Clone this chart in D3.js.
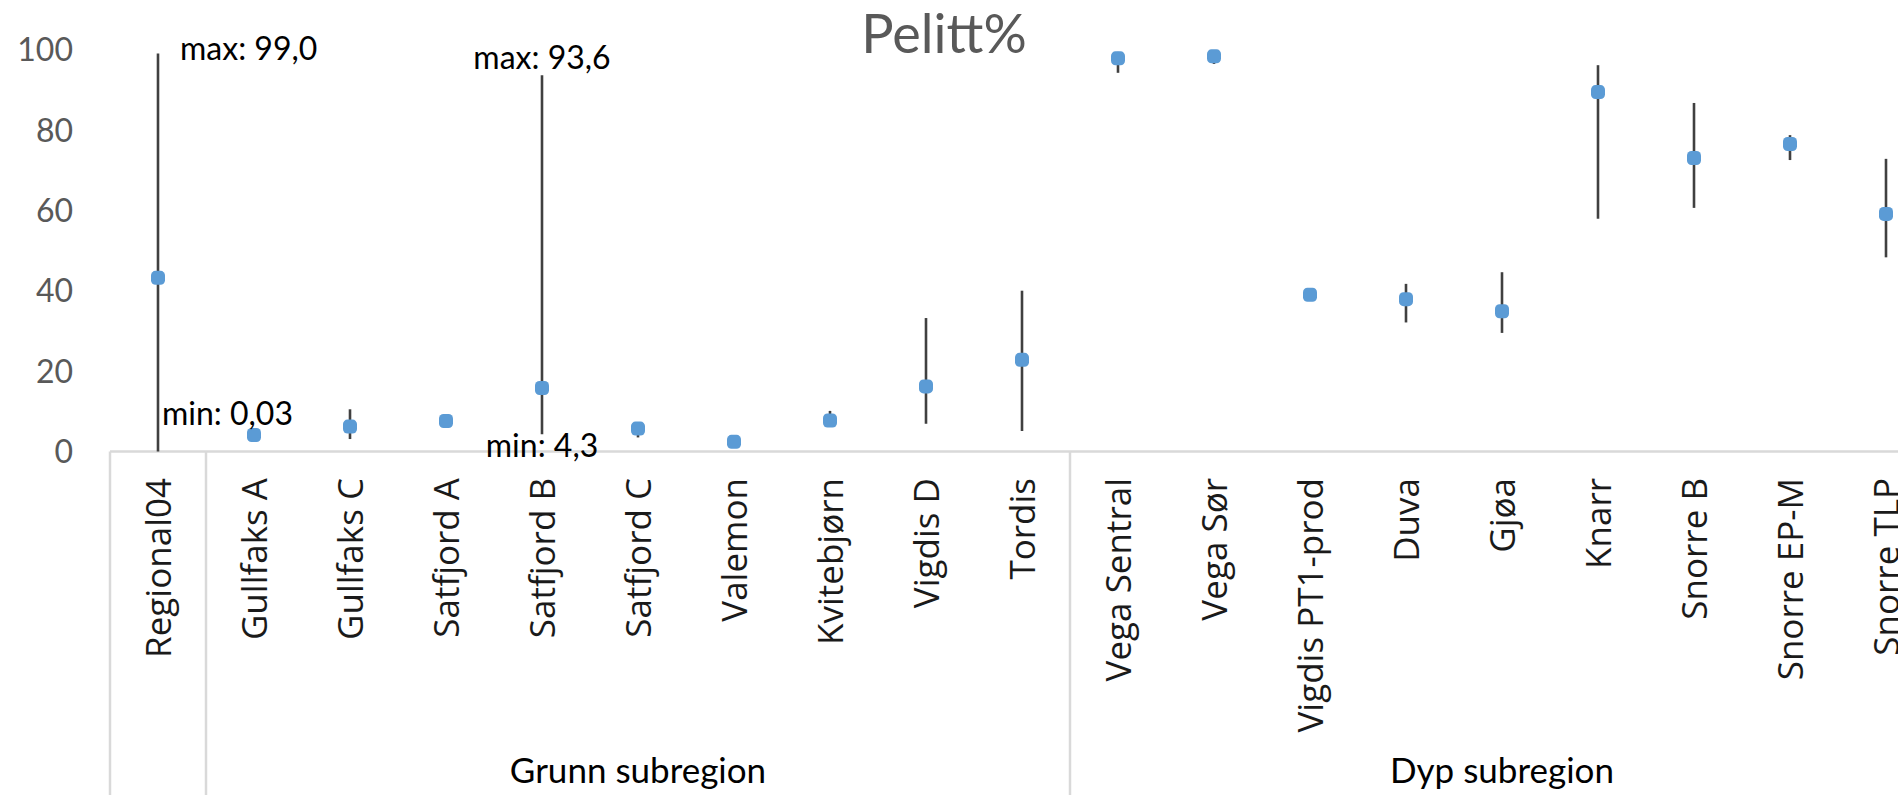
<!DOCTYPE html>
<html>
<head>
<meta charset="utf-8">
<script src="https://cdn.jsdelivr.net/npm/d3@7"></script>
<style>
  html, body { margin: 0; padding: 0; background: #ffffff; overflow: hidden; }
  svg { display: block; }
</style>
</head>
<body>
<svg id="chart" width="1898" height="795"></svg>
<script>
// ---- data ----
const categories = ["Regional04", "Gullfaks A", "Gullfaks C", "Satfjord A", "Satfjord B", "Satfjord C",
  "Valemon", "Kvitebjørn", "Vigdis D", "Tordis", "Vega Sentral", "Vega Sør", "Vigdis PT1-prod",
  "Duva", "Gjøa", "Knarr", "Snorre B", "Snorre EP-M", "Snorre TLP"];
const groupNames = ["", "Grunn subregion", "Dyp subregion"];
const groupSizes = [1, 9, 9];
const meanValues = [43.2, 4.1, 6.2, 7.6, 15.8, 5.7, 2.4, 7.7, 16.2, 22.8, 97.8, 98.3, 39.0, 37.9, 34.9, 89.4, 73.0, 76.5, 59.1];
const minValues  = [0.03, 3.6, 3.1, 7.0, 4.3, 3.5, 2.0, 7.0, 6.9, 5.1, 94.2, 96.4, 38.6, 32.1, 29.5, 57.9, 60.6, 72.5, 48.3];
const maxValues  = [99.0, 4.6, 10.5, 8.2, 93.6, 6.5, 2.9, 10.1, 33.2, 40.0, 99.4, 99.0, 39.4, 41.7, 44.6, 96.1, 86.7, 78.7, 72.8];
const yTicks = [0, 20, 40, 60, 80, 100];
const annotations = [
  { cat: "Regional04", kind: "max", text: "max: 99,0" },
  { cat: "Regional04", kind: "min", text: "min: 0,03" },
  { cat: "Satfjord B", kind: "max", text: "max: 93,6" },
  { cat: "Satfjord B", kind: "min", text: "min: 4,3" }
];
const title = "Pelitt%";

// ---- layout ----
const W = 1898, H = 795;
const left = 110, bandW = 96;
const right = left + bandW * categories.length;   // extends past the window (cropped like reference)
const yZero = 451.5, yTop = 49.5;

const svg = d3.select("#chart");
const x = d3.scaleBand().domain(categories).range([left, right]).paddingInner(0).paddingOuter(0);
const y = d3.scaleLinear().domain([0, 100]).range([yZero, yTop]);
const cx = c => x(c) + x.bandwidth() / 2;

// title
svg.append("text")
  .attr("x", 944).attr("y", 53)
  .attr("text-anchor", "middle")
  .attr("font-family", "Lato, 'Open Sans', sans-serif")
  .attr("font-size", 54)
  .attr("fill", "#595959")
  .text(title);

// y axis (labels only)
const yAxis = d3.axisLeft(y).tickValues(yTicks).tickSize(0).tickPadding(0).tickFormat(d3.format("d"));
const yg = svg.append("g").attr("transform", "translate(73,0)").call(yAxis);
yg.select(".domain").remove();
yg.selectAll("text")
  .attr("font-family", "Lato, 'Open Sans', sans-serif")
  .attr("font-size", 32)
  .attr("fill", "#595959")
  .attr("dy", "0.35em");

// category axis line
svg.append("line")
  .attr("x1", left).attr("x2", right)
  .attr("y1", yZero).attr("y2", yZero)
  .attr("stroke", "#d9d9d9").attr("stroke-width", 2.5);

// group separators
let idx = 0;
const bounds = [0];
groupSizes.forEach(s => { idx += s; bounds.push(idx); });
bounds.forEach(b => {
  const bx = b < categories.length ? x(categories[b]) : right;
  svg.append("line")
    .attr("x1", bx).attr("x2", bx)
    .attr("y1", yZero).attr("y2", H)
    .attr("stroke", "#d9d9d9").attr("stroke-width", 2.5);
});

// category labels (rotated)
svg.append("g").selectAll("text")
  .data(categories)
  .join("text")
  .attr("transform", d => `translate(${cx(d)},478) rotate(-90)`)
  .attr("text-anchor", "end")
  .attr("dy", "0.36em")
  .attr("font-family", "'Open Sans', 'Noto Sans', sans-serif")
  .attr("font-size", 35)
  .attr("fill", "#1a1a1a")
  .text(d => d);

// group labels
groupNames.forEach((g, i) => {
  if (!g) return;
  const a = x(categories[bounds[i]]);
  const b = bounds[i + 1] < categories.length ? x(categories[bounds[i + 1]]) : right;
  svg.append("text")
    .attr("x", (a + b) / 2).attr("y", 783)
    .attr("text-anchor", "middle")
    .attr("font-family", "Lato, 'Open Sans', sans-serif")
    .attr("font-size", 35)
    .attr("fill", "#000000")
    .text(g);
});

// error bars
svg.append("g").selectAll("line")
  .data(categories)
  .join("line")
  .attr("x1", d => cx(d)).attr("x2", d => cx(d))
  .attr("y1", (d, i) => y(minValues[i]))
  .attr("y2", (d, i) => y(maxValues[i]))
  .attr("stroke", "#404040").attr("stroke-width", 2.6);

// markers
const ms = 14;
svg.append("g").selectAll("rect")
  .data(categories)
  .join("rect")
  .attr("x", d => cx(d) - ms / 2)
  .attr("y", (d, i) => y(meanValues[i]) - ms / 2)
  .attr("width", ms).attr("height", ms)
  .attr("rx", 4.5).attr("ry", 4.5)
  .attr("fill", "#5b9bd5");

// min/max annotations
const annG = svg.append("g")
  .attr("font-family", "Lato, 'Open Sans', sans-serif")
  .attr("font-size", 32)
  .attr("fill", "#000000");
annotations.forEach(a => {
  const i = categories.indexOf(a.cat);
  const v = a.kind === "max" ? maxValues[i] : minValues[i];
  const t = annG.append("text").text(a.text);
  if (a.cat === "Regional04") {
    t.attr("x", cx(a.cat) + (a.kind === "max" ? 22 : 4))
     .attr("y", y(v) + (a.kind === "max" ? 6 : -26))
     .attr("text-anchor", "start");
  } else {
    t.attr("x", cx(a.cat))
     .attr("y", y(v) + (a.kind === "max" ? -6 : 23))
     .attr("text-anchor", "middle");
  }
});
</script>
</body>
</html>
